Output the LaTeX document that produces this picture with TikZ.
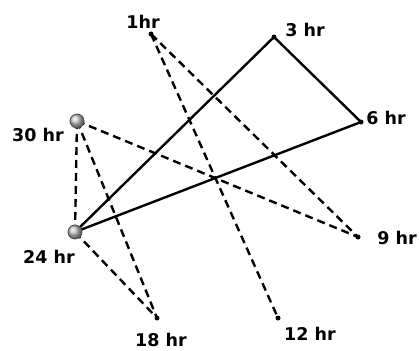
\documentclass[tikz,border=0pt]{standalone}
\usepackage{fontspec}
\setmainfont{DejaVu Sans}
\usetikzlibrary{backgrounds}
\begin{document}
\begin{tikzpicture}[x=1pt,y=-1pt,
  dot/.style={circle,fill=black,inner sep=0pt,minimum size=5pt},
  ballnode/.style={circle,draw=black!70,line width=0.8pt,ball color=gray!45,inner sep=0pt,minimum size=14pt},
  lbl/.style={inner sep=0pt,font=\fontsize{17.5}{20}\selectfont\bfseries},
  solidline/.style={line width=2.4pt},
  dashline/.style={line width=2.4pt,dash pattern=on 8pt off 5pt}]
\useasboundingbox (0,0) rectangle (419,350);
\node[dot] (h1) at (151,34) {};
\node[dot] (h3) at (274,37) {};
\node[dot] (h6) at (361,122) {};
\node[dot] (h9) at (358,237) {};
\node[dot] (h12) at (278,318) {};
\node[dot] (h18) at (157,318) {};
\node[ballnode] (h24) at (75,232) {};
\node[ballnode] (h30) at (77,121) {};
\begin{scope}[on background layer]
\draw[solidline] (h24.center) -- (h3.center) -- (h6.center) -- (h24.center);
\draw[dashline] (h1.center) -- (h9.center);
\draw[dashline] (h1.center) -- (h12.center);
\draw[dashline] (h30.center) -- (h9.center);
\draw[dashline] (h30.center) -- (h24.center);
\draw[dashline] (h30.center) -- (h18.center);
\draw[dashline] (h24.center) -- (h18.center);
\end{scope}
\node[lbl] (l1) at (143,22) {1hr};
\node[lbl] (l3) at (305,30) {3 hr};
\node[lbl] (l6) at (386,118) {6 hr};
\node[lbl] (l9) at (397,238) {9 hr};
\node[lbl] (l12) at (310,334) {12 hr};
\node[lbl] (l18) at (161,339.5) {18 hr};
\node[lbl] (l24) at (49,257) {24 hr};
\node[lbl] (l30) at (38,135) {30 hr};
\end{tikzpicture}
\end{document}
